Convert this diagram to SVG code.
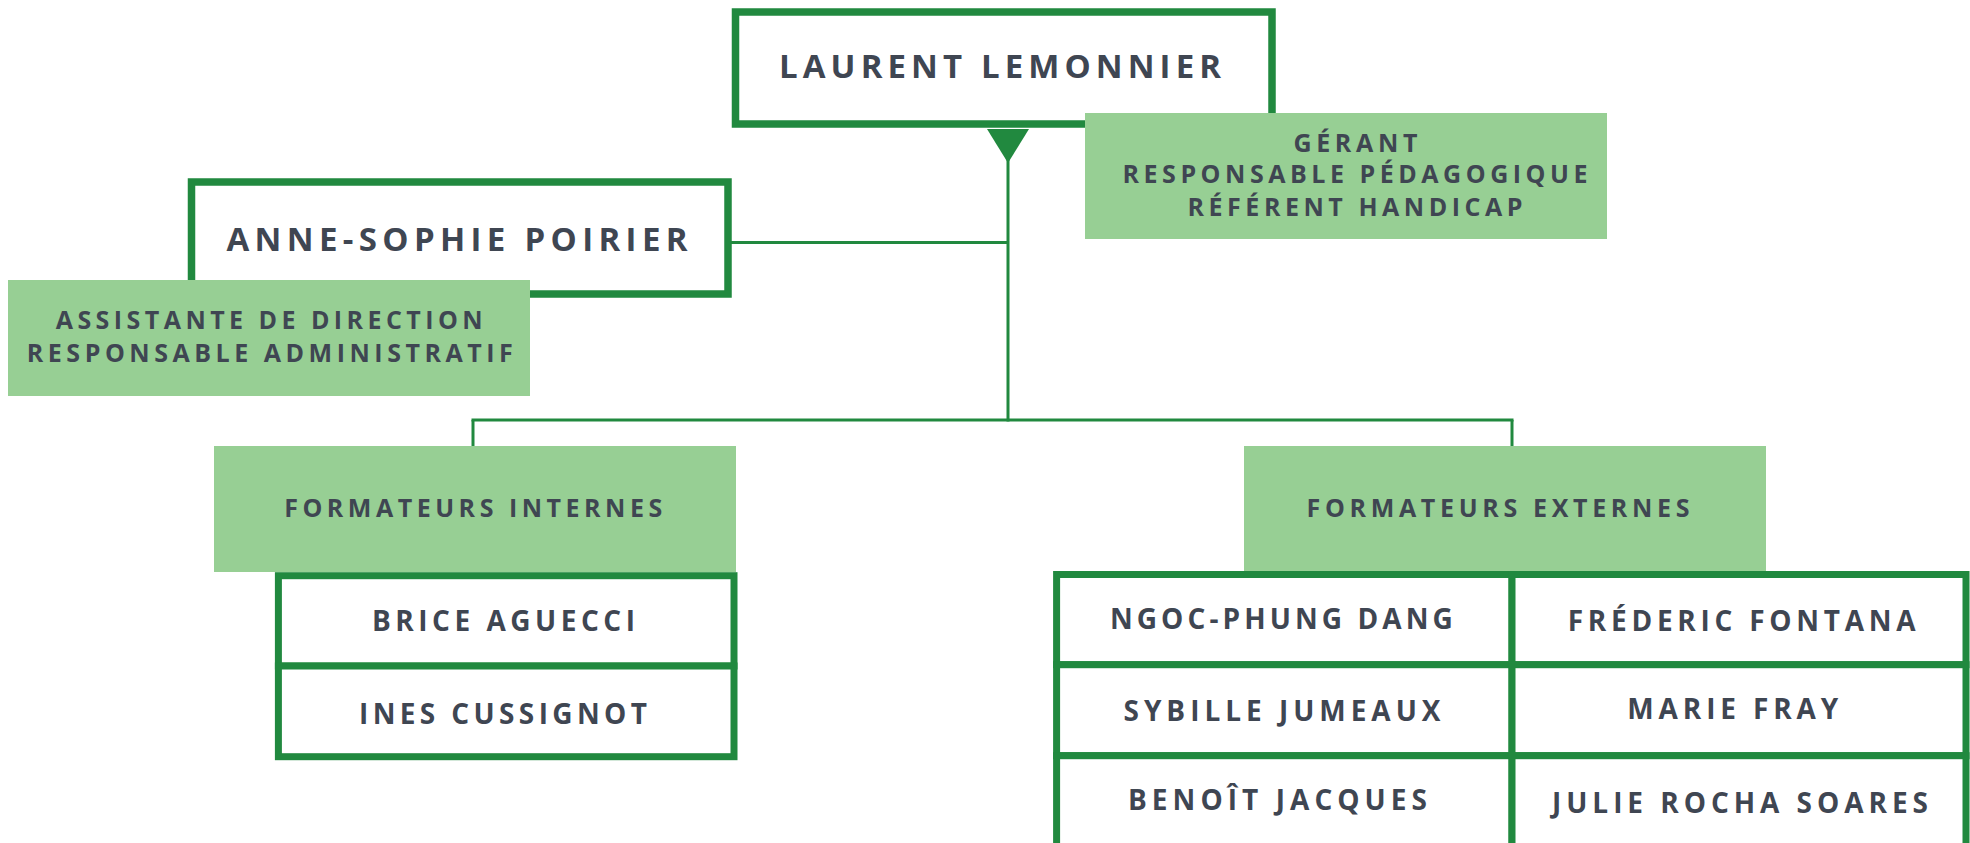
<svg xmlns="http://www.w3.org/2000/svg" width="1970" height="843" viewBox="0 0 1970 843">
<style>
.box{fill:#ffffff;stroke:#21893f;stroke-width:7.5}
.cell{fill:#ffffff;stroke:#21893f;stroke-width:7}
.tag{fill:#97cf94}
.conn{fill:none;stroke:#21893f;stroke-width:3}
text{font-family:"Open Sans","Liberation Sans",sans-serif;font-weight:700;fill:#3f4652;text-anchor:middle}
.big{font-size:33px}
.mid{font-size:28px}
.sm{font-size:25px}
</style>
<rect width="1970" height="843" fill="#ffffff"/>
<g id="connectors">
<polygon points="987,129 1029,129 1008,163" fill="#21893f"/>
<line class="conn" x1="1008" y1="150" x2="1008" y2="421.5"/>
<line class="conn" x1="728" y1="242.5" x2="1008" y2="242.5"/>
<line class="conn" x1="471.5" y1="420" x2="1513.5" y2="420"/>
<line class="conn" x1="473" y1="420" x2="473" y2="446"/>
<line class="conn" x1="1512" y1="420" x2="1512" y2="446"/>
</g>
<g id="laurent">
<rect class="box" x="735.5" y="12" width="536.5" height="112"/>
<text class="big" x="1000" y="78" textLength="442" lengthAdjust="spacing">LAURENT LEMONNIER</text>
</g>
<g id="anne-sophie">
<rect class="box" x="191.5" y="182" width="536.5" height="112"/>
<text class="big" x="457" y="250.7" textLength="461" lengthAdjust="spacing">ANNE-SOPHIE POIRIER</text>
</g>
<g id="role-anne-sophie">
<rect class="tag" x="8" y="280" width="522" height="116"/>
<text class="sm" x="269.2" y="329.3" textLength="427" lengthAdjust="spacing">ASSISTANTE DE DIRECTION</text>
<text class="sm" x="269.8" y="361.7" textLength="486" lengthAdjust="spacing">RESPONSABLE ADMINISTRATIF</text>
</g>
<g id="role-laurent">
<rect class="tag" x="1085" y="113" width="522" height="126"/>
<text class="sm" x="1355.4" y="152.3" textLength="124" lengthAdjust="spacing">GÉRANT</text>
<text class="sm" x="1355" y="183.3" textLength="465" lengthAdjust="spacing">RESPONSABLE PÉDAGOGIQUE</text>
<text class="sm" x="1355" y="215.7" textLength="335" lengthAdjust="spacing">RÉFÉRENT HANDICAP</text>
</g>
<g id="formateurs-internes">
<rect class="tag" x="214" y="446" width="522" height="126"/>
<text class="sm" x="473.2" y="516.7" textLength="378" lengthAdjust="spacing">FORMATEURS INTERNES</text>
</g>
<g id="formateurs-externes">
<rect class="tag" x="1244" y="446" width="522" height="125"/>
<text class="sm" x="1498" y="516.7" textLength="383" lengthAdjust="spacing">FORMATEURS EXTERNES</text>
</g>
<g id="brice-aguecci">
<rect class="cell" x="278.4" y="575.7" width="455.6" height="90.3"/>
<text class="mid" x="503.5" y="630.7" textLength="263" lengthAdjust="spacing">BRICE AGUECCI</text>
</g>
<g id="ines-cussignot">
<rect class="cell" x="278.4" y="666" width="455.6" height="90.7"/>
<text class="mid" x="503" y="724.3" textLength="288" lengthAdjust="spacing">INES CUSSIGNOT</text>
</g>
<g id="ngoc-phung-dang">
<rect class="cell" x="1056.6" y="574.5" width="455.4" height="90.2"/>
<text class="mid" x="1281.4" y="628.8" textLength="343" lengthAdjust="spacing">NGOC-PHUNG DANG</text>
</g>
<g id="frederic-fontana">
<rect class="cell" x="1512" y="574.5" width="454" height="90.2"/>
<text class="mid" x="1741.7" y="631" textLength="348" lengthAdjust="spacing">FRÉDERIC FONTANA</text>
</g>
<g id="sybille-jumeaux">
<rect class="cell" x="1056.6" y="664.7" width="455.4" height="91"/>
<text class="mid" x="1282" y="720.7" textLength="317" lengthAdjust="spacing">SYBILLE JUMEAUX</text>
</g>
<g id="marie-fray">
<rect class="cell" x="1512" y="664.7" width="454" height="91"/>
<text class="mid" x="1732.8" y="719" textLength="211" lengthAdjust="spacing">MARIE FRAY</text>
</g>
<g id="benoit-jacques">
<rect class="cell" x="1056.6" y="755.7" width="455.4" height="91"/>
<text class="mid" x="1277.5" y="810" textLength="299" lengthAdjust="spacing">BENOÎT JACQUES</text>
</g>
<g id="julie-rocha-soares">
<rect class="cell" x="1512" y="755.7" width="454" height="91"/>
<text class="mid" x="1740" y="813.3" textLength="376" lengthAdjust="spacing">JULIE ROCHA SOARES</text>
</g>
</svg>
